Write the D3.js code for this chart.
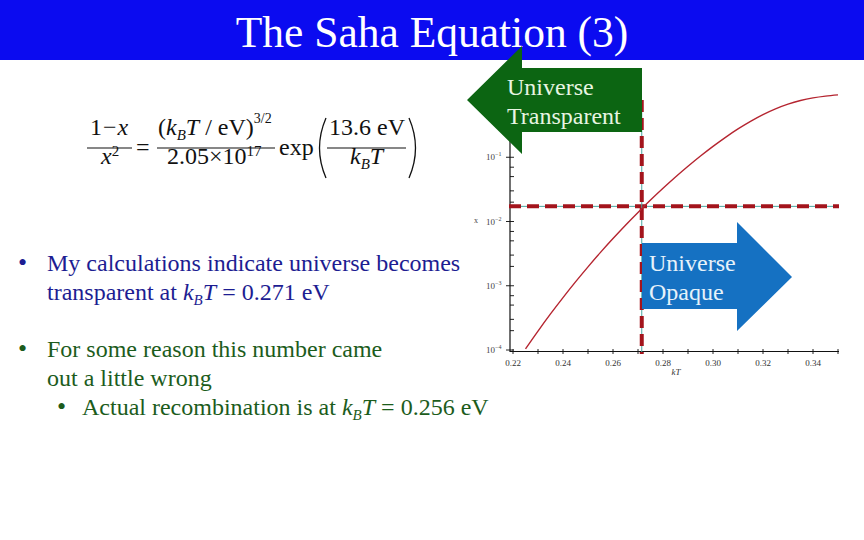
<!DOCTYPE html>
<html><head><meta charset="utf-8">
<script src="https://cdn.jsdelivr.net/npm/d3@7"></script>
<style>html,body{margin:0;padding:0;background:#fff}svg{display:block}</style>
</head><body>
<svg id="c" width="864" height="540"></svg>
<script>
// ---- data ----
const kTValues = [0.225,0.23,0.235,0.24,0.245,0.25,0.255,0.26,0.265,0.27,0.275,0.28,0.285,0.29,0.295,0.30,0.305,0.31,0.315,0.32,0.325,0.33,0.335,0.34,0.345,0.35];
const ionFraction = [1.04e-4,1.97e-4,3.64e-4,6.54e-4,1.148e-3,1.97e-3,3.31e-3,5.43e-3,8.76e-3,0.01385,0.02152,0.03282,0.04921,0.0723,0.1044,0.1477,0.2044,0.2759,0.3622,0.4611,0.5667,0.671,0.764,0.8395,0.8955,0.934];
const xTickValues = [0.22,0.24,0.26,0.28,0.30,0.32,0.34];
const xTickLabels = ["0.22","0.24","0.26","0.28","0.30","0.32","0.34"];
const xMinorTicks = [0.23,0.25,0.27,0.29,0.31,0.33,0.35];
const yTickExponents = [-1,-2,-3,-4];
const yMinorMultipliers = [2,3,5,7];
const transparentKT = 0.2715;
const transparentX = 0.0172;
const titleText = "The Saha Equation (3)";

const svg = d3.select("#c");
const serif = "'Liberation Serif','Times New Roman',serif";

const x = d3.scaleLinear().domain([0.2188, 0.3504]).range([510, 839]);
const y = d3.scaleLog().domain([1e-4, 1]).range([350, 93]);

// ---- plot ----
const g = svg.append("g");
const minorY = [];
[-4,-3,-2,-1].forEach(e => yMinorMultipliers.forEach(m => minorY.push(m * Math.pow(10, e))));
g.selectAll(".ym").data(minorY).join("line")
  .attr("x1", 510).attr("x2", 514).attr("y1", d => y(d)).attr("y2", d => y(d))
  .attr("stroke", "#222").attr("stroke-width", 1);
g.selectAll(".yM").data(yTickExponents).join("line")
  .attr("x1", 506).attr("x2", 514).attr("y1", d => y(Math.pow(10, d))).attr("y2", d => y(Math.pow(10, d)))
  .attr("stroke", "#222").attr("stroke-width", 1);
const yl = g.selectAll(".yl").data(yTickExponents).join("text")
  .attr("x", 486).attr("y", d => y(Math.pow(10, d)) + 3)
  .attr("font-family", serif).attr("font-size", 9).attr("fill", "#444");
yl.append("tspan").text("10");
yl.append("tspan").attr("dy", -4).attr("font-size", 6).text(d => "−" + (-d));
g.append("text").attr("x", 474).attr("y", 223).attr("font-family", serif).attr("font-size", 8).attr("fill", "#444").text("x");

// x ticks
g.selectAll(".xt").data(xTickValues.concat(xMinorTicks)).join("line")
  .attr("x1", d => x(d)).attr("x2", d => x(d)).attr("y1", 349).attr("y2", 354)
  .attr("stroke", "#222").attr("stroke-width", 1);
g.selectAll(".xl").data(xTickValues).join("text")
  .attr("x", d => x(d)).attr("y", 366).attr("text-anchor", "middle")
  .attr("font-family", serif).attr("font-size", 9).attr("fill", "#333")
  .text((d, i) => xTickLabels[i]);
g.append("text").attr("x", 676).attr("y", 375).attr("text-anchor", "middle")
  .attr("font-family", serif).attr("font-style", "italic").attr("font-size", 9).attr("fill", "#333").text("kT");

// axes lines
g.append("line").attr("x1", 510).attr("x2", 510).attr("y1", 90).attr("y2", 352).attr("stroke", "#111").attr("stroke-width", 1.2);
g.append("line").attr("x1", 510).attr("x2", 839).attr("y1", 351.5).attr("y2", 351.5).attr("stroke", "#111").attr("stroke-width", 1.2);

// guide lines (teal thin + red dashed)
const hy = y(transparentX), vx = x(transparentKT);
[[509, hy, 839, hy], [vx, 100, vx, 354]].forEach(([a, b, c, d]) => {
  g.append("line").attr("x1", a).attr("y1", b).attr("x2", c).attr("y2", d).attr("stroke", "#4aa6a0").attr("stroke-width", 1);
  g.append("line").attr("x1", a).attr("y1", b).attr("x2", c).attr("y2", d).attr("stroke", "#a3141c")
    .attr("stroke-width", 4).attr("stroke-dasharray", "12,6");
});

// curve
const pts = kTValues.map((k, i) => [k, ionFraction[i]]);
g.append("path").datum(pts)
  .attr("d", d3.line().x(d => x(d[0])).y(d => y(d[1])).curve(d3.curveMonotoneX))
  .attr("fill", "none").attr("stroke", "#b52530").attr("stroke-width", 1.4);

// ---- title bar ----
svg.append("rect").attr("x", 0).attr("y", 0).attr("width", 864).attr("height", 60).attr("fill", "#0b0bf0");
svg.append("text").attr("x", 432).attr("y", 47).attr("text-anchor", "middle")
  .attr("font-family", serif).attr("font-size", 43.5).attr("fill", "#fff").text(titleText);

// ---- arrows ----
svg.append("path").attr("d", "M467,100 L522,46 L522,68 L642,68 L642,132 L522,132 L522,154 Z").attr("fill", "#0c6512");
svg.append("path").attr("d", "M642,243 L737,243 L737,222 L792,277 L737,331 L737,309 L642,309 Z").attr("fill", "#1571c2");
const at = [["Universe", 507, 95, "#e8f5e2"], ["Transparent", 507, 124, "#e8f5e2"], ["Universe", 649, 271, "#e6f2fa"], ["Opaque", 649, 300, "#e6f2fa"]];
svg.selectAll(".at").data(at).join("text")
  .attr("x", d => d[1]).attr("y", d => d[2]).attr("fill", d => d[3])
  .attr("font-family", serif).attr("font-size", 24).text(d => d[0]);

// ---- equation ----
const eq = svg.append("g").attr("font-family", serif).attr("font-size", 24).attr("fill", "#111");
function kbt(sel, sub) {
  sel.append("tspan").attr("font-style", "italic").text("k");
  sel.append("tspan").attr("font-style", "italic").attr("font-size", sub).attr("dy", 5).text("B");
  sel.append("tspan").attr("font-style", "italic").attr("dy", -5).text("T");
}
let t = eq.append("text").attr("x", 90).attr("y", 135);
t.append("tspan").text("1");
t.append("tspan").attr("dx", 1).text("−");
t.append("tspan").attr("dx", 1).attr("font-style", "italic").text("x");
eq.append("line").attr("x1", 87).attr("x2", 132).attr("y1", 148).attr("y2", 148).attr("stroke", "#111").attr("stroke-width", 1.2);
t = eq.append("text").attr("x", 101).attr("y", 164);
t.append("tspan").attr("font-style", "italic").text("x");
t.append("tspan").attr("font-size", 15).attr("dy", -8).text("2");
eq.append("text").attr("x", 136).attr("y", 155).text("=");
t = eq.append("text").attr("x", 158).attr("y", 135);
t.append("tspan").text("(");
kbt(t, 15);
t.append("tspan").text(" / eV)");
t.append("tspan").attr("font-size", 14).attr("dy", -12).text("3/2");
eq.append("line").attr("x1", 157).attr("x2", 275).attr("y1", 148).attr("y2", 148).attr("stroke", "#111").attr("stroke-width", 1.2);
t = eq.append("text").attr("x", 167).attr("y", 164);
t.append("tspan").text("2.05×10");
t.append("tspan").attr("font-size", 15).attr("dy", -8).text("17");
eq.append("text").attr("x", 279).attr("y", 155).text("exp");
eq.append("path").attr("d", "M326,118 Q313,148 326,178").attr("fill", "none").attr("stroke", "#111").attr("stroke-width", 1.3);
eq.append("path").attr("d", "M409,118 Q422,148 409,178").attr("fill", "none").attr("stroke", "#111").attr("stroke-width", 1.3);
eq.append("text").attr("x", 329).attr("y", 135).text("13.6 eV");
eq.append("line").attr("x1", 327).attr("x2", 406).attr("y1", 148).attr("y2", 148).attr("stroke", "#111").attr("stroke-width", 1.2);
t = eq.append("text").attr("x", 350).attr("y", 164);
kbt(t, 15);

// ---- bullets ----
const blue = "#1d1d92", green = "#1c5c1c";
const bf = 24;
function bullet(bx, by, col) {
  svg.append("text").attr("x", bx).attr("y", by).attr("fill", col).attr("font-family", serif).attr("font-size", 26).text("•");
}
function line(tx, ty, col, parts) {
  const tt = svg.append("text").attr("x", tx).attr("y", ty).attr("fill", col).attr("font-family", serif).attr("font-size", bf);
  parts.forEach(p => {
    if (p === "KBT") kbt(tt, 15); else tt.append("tspan").text(p);
  });
}
bullet(18, 271, blue);
line(47, 271, blue, ["My calculations indicate universe becomes"]);
line(47, 300, blue, ["transparent at ", "KBT", " = 0.271 eV"]);
bullet(18, 357, green);
line(47, 357, green, ["For some reason this number came"]);
line(47, 386, green, ["out a little wrong"]);
bullet(57, 415, green);
line(82, 415, green, ["Actual recombination is at ", "KBT", " = 0.256 eV"]);
</script>
</body></html>
